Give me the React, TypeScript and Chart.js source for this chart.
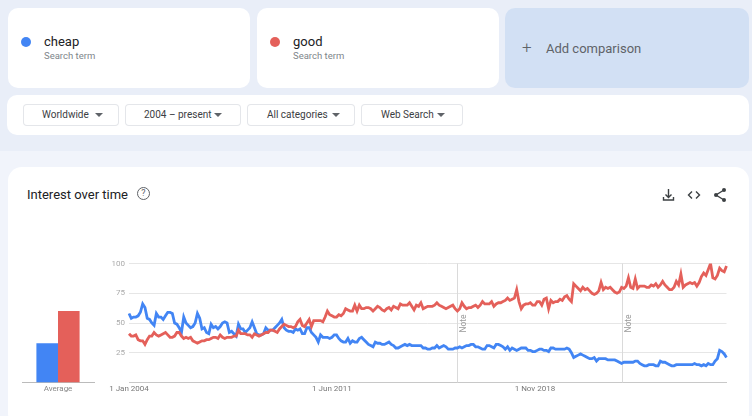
import { useEffect, useRef } from "react"
import { Chart, registerables } from "chart.js"
import type { CSSProperties } from "react"

Chart.register(...registerables)

const monthNames = ["Jan", "Feb", "Mar", "Apr", "May", "Jun", "Jul", "Aug", "Sep", "Oct", "Nov", "Dec"]

const cheap = [
  58, 54, 55, 55, 56, 59, 66, 63, 54, 53,
  50, 48, 58, 55, 55, 53, 56, 59, 59, 58,
  50, 49, 46, 42, 55, 50, 48, 46, 47, 50,
  58, 54, 45, 46, 42, 41, 49, 46, 47, 45,
  47, 50, 51, 50, 42, 43, 41, 39, 49, 45,
  45, 42, 44, 46, 51, 46, 41, 40, 40, 41,
  46, 44, 44, 44, 46, 48, 50, 53, 46, 44,
  43, 43, 42, 45, 44, 45, 41, 41, 46, 46,
  42, 40, 38, 34, 40, 38, 38, 38, 37, 38,
  40, 40, 37, 35, 34, 34, 37, 33, 35, 34,
  34, 37, 38, 36, 34, 32, 31, 30, 34, 33,
  33, 32, 32, 33, 34, 32, 31, 29, 29, 30,
  31, 32, 31, 32, 31, 31, 31, 31, 31, 29,
  29, 28, 28, 29, 29, 31, 29, 30, 31, 30,
  28, 28, 28, 29, 29, 30, 29, 30, 31, 31,
  32, 32, 30, 30, 29, 28, 28, 31, 31, 30,
  29, 32, 32, 31, 30, 28, 30, 27, 29, 28,
  27, 28, 29, 29, 29, 27, 27, 26, 26, 27,
  28, 28, 27, 27, 26, 29, 29, 28, 28, 28,
  28, 28, 29, 28, 25, 21, 22, 23, 24, 23,
  22, 21, 20, 20, 21, 18, 20, 20, 20, 20,
  19, 19, 19, 19, 18, 17, 16, 17, 17, 17,
  17, 17, 18, 18, 16, 15, 14, 14, 15, 15,
  15, 14, 14, 18, 17, 17, 16, 15, 14, 14,
  15, 15, 15, 15, 15, 15, 15, 15, 16, 15,
  15, 14, 15, 14, 16, 15, 15, 18, 20, 27,
  26, 24, 21,
]

const good = [
  41, 39, 39, 40, 36, 35, 35, 32, 36, 39,
  39, 42, 40, 39, 40, 41, 42, 40, 38, 38,
  39, 42, 42, 39, 37, 38, 37, 38, 35, 34,
  33, 34, 35, 35, 36, 36, 37, 38, 38, 37,
  40, 38, 37, 38, 38, 38, 39, 39, 44, 41,
  41, 41, 40, 40, 38, 41, 40, 39, 40, 41,
  42, 42, 44, 44, 43, 42, 45, 47, 49, 48,
  47, 47, 46, 47, 51, 53, 48, 47, 50, 53,
  47, 52, 52, 52, 52, 51, 55, 60, 57, 56,
  55, 55, 57, 56, 58, 62, 61, 60, 60, 65,
  60, 65, 62, 62, 63, 63, 62, 60, 62, 64,
  63, 61, 60, 62, 63, 61, 64, 63, 62, 66,
  65, 65, 65, 67, 64, 61, 65, 64, 67, 62,
  63, 64, 64, 64, 65, 67, 65, 64, 63, 62,
  63, 64, 65, 62, 60, 62, 67, 64, 62, 63,
  63, 64, 65, 63, 65, 68, 66, 66, 66, 68,
  64, 66, 67, 67, 68, 69, 71, 69, 70, 71,
  78, 68, 62, 65, 66, 66, 67, 65, 65, 68,
  68, 65, 70, 71, 62, 69, 67, 68, 68, 70,
  69, 72, 73, 70, 68, 83, 81, 79, 77, 80,
  78, 79, 77, 75, 74, 75, 77, 84, 78, 80,
  79, 80, 78, 76, 75, 76, 80, 79, 81, 88,
  80, 79, 87, 79, 81, 81, 81, 80, 80, 82,
  81, 83, 80, 82, 85, 82, 80, 78, 78, 80,
  85, 82, 91, 80, 82, 83, 84, 83, 84, 81,
  84, 89, 92, 90, 95, 100, 88, 87, 90, 96,
  94, 93, 98,
]

const averages = { cheap: 33, good: 60 }

const xTickLabels = ["1 Jan 2004", "1 Jun 2011", "1 Nov 2018"]
const yTickLabels = [25, 50, 75, 100]
const noteMonths = ["Jan 2016", "Jan 2022"]

const months = cheap.map((_, i) => `${monthNames[i % 12]} ${2004 + Math.floor(i / 12)}`)
const tickMonths = ["Jan 2004", "Jun 2011", "Nov 2018"]

const BLUE = "#4285f4"
const RED = "#e4605a"

const notePlugin = {
  id: "notes",
  beforeDatasetsDraw(chart: Chart) {
    const { ctx, chartArea, scales } = chart
    ctx.save()
    noteMonths.forEach((m) => {
      const x = Math.round(scales.x.getPixelForValue(months.indexOf(m))) + 0.5
      ctx.strokeStyle = "#dadada"
      ctx.lineWidth = 1
      ctx.beginPath()
      ctx.moveTo(x, chartArea.top)
      ctx.lineTo(x, chartArea.bottom)
      ctx.stroke()
      ctx.translate(x + 6, chartArea.top + 60)
      ctx.rotate(-Math.PI / 2)
      ctx.fillStyle = "#999"
      ctx.font = "8.5px Roboto"
      ctx.textAlign = "center"
      ctx.textBaseline = "middle"
      ctx.fillText("Note", 0, 0)
      ctx.setTransform(1, 0, 0, 1, 0, 0)
    })
    ctx.restore()
  },
}

function TrendChart() {
  const ref = useRef<HTMLCanvasElement>(null)

  useEffect(() => {
    if (!ref.current) return
    const chart = new Chart(ref.current, {
      type: "line",
      data: {
        labels: months,
        datasets: [
          { label: "cheap", data: cheap, borderColor: BLUE, borderWidth: 2.8, pointRadius: 0, tension: 0, order: 2 },
          { label: "good", data: good, borderColor: RED, borderWidth: 2.8, pointRadius: 0, tension: 0, order: 1 },
        ],
      },
      options: {
        responsive: false,
        animation: false,
        layout: { padding: { top: 13.5, right: 13.5 } },
        plugins: { legend: { display: false }, tooltip: { enabled: false } },
        scales: {
          x: {
            grid: { display: false, drawTicks: false },
            border: { color: "#c8c8c8" },
            afterFit: (s: any) => { s.height = 33.5 },
            ticks: {
              autoSkip: false,
              maxRotation: 0,
              padding: 2,
              color: "#777",
              font: { family: "Roboto", size: 8 },
              callback: (_: any, i: number) => {
                const at = tickMonths.indexOf(months[i])
                return at >= 0 ? xTickLabels[at] : null
              },
            },
          },
          y: {
            min: 0,
            max: 100,
            grid: { color: "#e6e6e6", drawTicks: false },
            border: { display: false },
            afterFit: (s: any) => { s.width = 39 },
            ticks: {
              stepSize: 25,
              padding: 4,
              color: "#aaa",
              font: { family: "Roboto", size: 8 },
              callback: (v: any) => (yTickLabels.includes(v) ? String(v) : ""),
            },
          },
        },
      },
      plugins: [notePlugin],
    })
    return () => chart.destroy()
  }, [])

  return <canvas ref={ref} width={650} height={166} style={{ position: "absolute", left: 90, top: 250 }} />
}

function AverageChart() {
  const ref = useRef<HTMLCanvasElement>(null)

  useEffect(() => {
    if (!ref.current) return
    const chart = new Chart(ref.current, {
      type: "bar",
      data: {
        labels: ["Average"],
        datasets: [
          { label: "cheap", data: [averages.cheap], backgroundColor: BLUE },
          { label: "good", data: [averages.good], backgroundColor: RED },
        ],
      },
      options: {
        responsive: false,
        animation: false,
        layout: { padding: { top: 13.5, left: 8, right: 8 } },
        plugins: { legend: { display: false }, tooltip: { enabled: false } },
        scales: {
          x: {
            grid: { display: false, drawTicks: false },
            border: { color: "#bbb" },
            afterFit: (s: any) => { s.height = 33.5 },
            ticks: { padding: 2, color: "#888", font: { family: "Roboto", size: 8 } },
          },
          y: { display: false, min: 0, max: 100 },
        },
        datasets: { bar: { categoryPercentage: 0.6, barPercentage: 1 } },
      },
    })
    return () => chart.destroy()
  }, [])

  return <canvas ref={ref} width={88} height={166} style={{ position: "absolute", left: 14, top: 250 }} />
}

const box = (left: number, top: number, width: number, height: number, extra: CSSProperties = {}): CSSProperties => ({
  position: "absolute",
  left,
  top,
  width,
  height,
  background: "#fff",
  borderRadius: 10,
  ...extra,
})

function Term({ left, color, name }: { left: number; color: string; name: string }) {
  return (
    <div style={box(left, 8, 242, 80)}>
      <div style={{ position: "absolute", left: 13, top: 29, width: 10, height: 10, borderRadius: 5, background: color }} />
      <div style={{ position: "absolute", left: 36, top: 26, fontSize: 13, color: "#202124" }}>{name}</div>
      <div style={{ position: "absolute", left: 36, top: 42, fontSize: 9.5, color: "#80868b" }}>Search term</div>
    </div>
  )
}

function Dropdown({ left, width, label, textAt, arrowAt }: { left: number; width: number; label: string; textAt: number; arrowAt: number }) {
  return (
    <div
      style={box(left, 104, width, 22, {
        borderRadius: 4,
        boxShadow: "inset 0 0 0 1px #e4e6ea",
        fontSize: 10,
        color: "#3c4043",
        lineHeight: "22px",
      })}
    >
      <span style={{ position: "absolute", left: textAt, whiteSpace: "nowrap" }}>{label}</span>
      <span
        style={{
          position: "absolute",
          left: arrowAt - 4,
          top: 9,
          borderLeft: "4px solid transparent",
          borderRight: "4px solid transparent",
          borderTop: "4.5px solid #5f6368",
        }}
      />
    </div>
  )
}

function Icons() {
  const stroke = { stroke: "#3c4043", strokeWidth: 1.4, fill: "none" }
  return (
    <svg width={70} height={20} style={{ position: "absolute", left: 658, top: 185 }}>
      <path d="M10.5 4v8M7.5 9.5l3 3 3-3M5.5 12v3h10v-3" {...stroke} />
      <path d="M34 6.5l-3.5 3.5 3.5 3.5M38 6.5l3.5 3.5-3.5 3.5" {...stroke} />
      <path d="M66 5l-8 5 8 5" {...stroke} />
      <circle cx={66} cy={5} r={2} fill="#3c4043" />
      <circle cx={58} cy={10} r={2} fill="#3c4043" />
      <circle cx={66} cy={15} r={2} fill="#3c4043" />
    </svg>
  )
}

export default function App() {
  return (
    <div style={{ position: "fixed", inset: 0, overflow: "hidden", background: "#e9eef8", fontFamily: "Roboto, sans-serif" }}>
      <Term left={8} color={BLUE} name="cheap" />
      <Term left={257} color={RED} name="good" />
      <div style={box(505, 8, 244, 80, { background: "#d2e0f4" })}>
        <div style={{ position: "absolute", left: 17, top: 29, fontSize: 17, fontWeight: 300, lineHeight: "20px", color: "#5f6368" }}>+</div>
        <div style={{ position: "absolute", left: 41, top: 33, fontSize: 13, color: "#5f6368" }}>Add comparison</div>
      </div>
      <div style={box(7, 95, 742, 40)} />
      <Dropdown left={23} width={96} label="Worldwide" textAt={19} arrowAt={76} />
      <Dropdown left={125} width={116} label="2004 – present" textAt={19} arrowAt={93} />
      <Dropdown left={247} width={108} label="All categories" textAt={20} arrowAt={89} />
      <Dropdown left={361} width={102} label="Web Search" textAt={20} arrowAt={80} />
      <div style={{ position: "absolute", left: 0, top: 151, width: 752, height: 265, background: "#f1f4fb" }} />
      <div style={box(8, 167, 741, 260, { borderRadius: 14 })} />
      <div style={{ position: "absolute", left: 27, top: 187, fontSize: 13, color: "#202124" }}>Interest over time</div>
      <div
        style={{
          position: "absolute",
          left: 137,
          top: 187,
          width: 11,
          height: 11,
          border: "1px solid #5f6368",
          borderRadius: "50%",
          fontSize: 9,
          lineHeight: "11px",
          textAlign: "center",
          color: "#5f6368",
        }}
      >
        ?
      </div>
      <Icons />
      <AverageChart />
      <TrendChart />
    </div>
  )
}
